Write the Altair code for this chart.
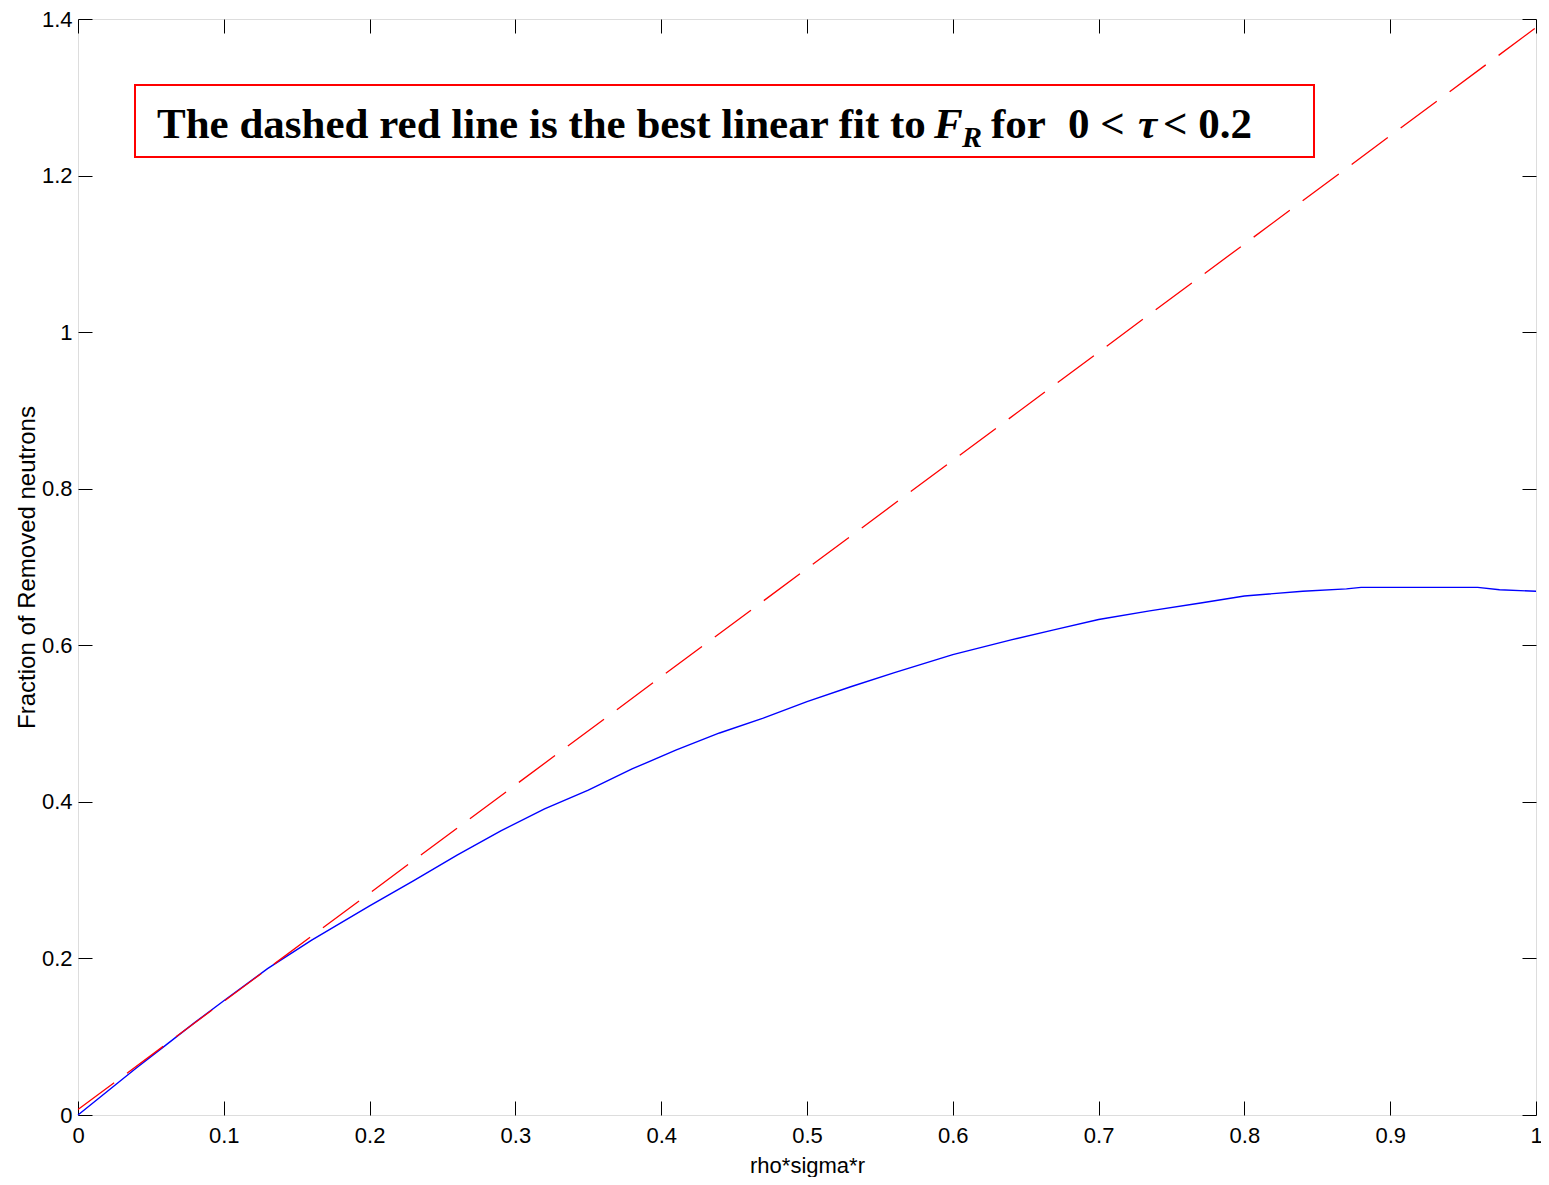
import altair as alt
import pandas as pd

# ---- data ----
x_blue = [0.0, 0.02, 0.04, 0.06, 0.08, 0.10, 0.13, 0.16, 0.20, 0.23, 0.26, 0.29, 0.32, 0.35,
          0.38, 0.41, 0.44, 0.47, 0.50, 0.53, 0.56, 0.60, 0.64, 0.67, 0.70, 0.735, 0.77, 0.80,
          0.84, 0.87, 0.88, 0.96, 0.975, 1.0]
y_blue = [0.0, 0.030, 0.060, 0.089, 0.118, 0.146, 0.187, 0.223, 0.267, 0.299, 0.332, 0.363,
          0.391, 0.415, 0.442, 0.466, 0.488, 0.507, 0.528, 0.547, 0.565, 0.588, 0.607, 0.620,
          0.633, 0.644, 0.654, 0.663, 0.669, 0.672, 0.674, 0.674, 0.671, 0.669]
x_fit = [0.0, 1.0]
y_fit = [0.007, 1.389]
x_ticks = [0, 0.1, 0.2, 0.3, 0.4, 0.5, 0.6, 0.7, 0.8, 0.9, 1.0]
y_ticks = [0, 0.2, 0.4, 0.6, 0.8, 1.0, 1.2, 1.4]

x_title = "rho*sigma*r"
y_title = "Fraction of Removed neutrons"
note_main = "The dashed red line is the best linear fit to"
note_F, note_R, note_for, note_0lt, note_tau, note_end = "F", "R", "for", "0 <", "τ", "< 0.2"

blue_df = pd.DataFrame({"x": x_blue, "y": y_blue})
fit_df = pd.DataFrame({"x": x_fit, "y": y_fit})

W, H = 1458, 1096
SANS = "Liberation Sans, Arial"
SERIF = "Liberation Serif, Times New Roman"

xs = alt.Scale(domain=[0, 1], nice=False, zero=False)
ys = alt.Scale(domain=[0, 1.4], nice=False, zero=False)

def tick_axis(orient, values):
    return alt.Axis(orient=orient, values=values, labels=False, domain=False, grid=False,
                    ticks=True, tickSize=14, tickColor="black", tickWidth=1, offset=-14, title=None)

x_main = alt.Axis(orient="bottom", values=x_ticks, format="~g", ticks=False, domain=False,
                  grid=False, labelFont=SANS, labelFontSize=22, labelColor="black",
                  labelPadding=10, labelFlush=False, labelOverlap=False,
                  title=x_title, titleFont=SANS, titleFontSize=22, titleFontWeight="normal",
                  titleColor="black", titlePadding=9)
y_main = alt.Axis(orient="left", values=y_ticks, format="~g", ticks=False, domain=False,
                  grid=False, labelFont=SANS, labelFontSize=22, labelColor="black",
                  labelPadding=6, labelFlush=False, labelOverlap=False,
                  title=y_title, titleFont=SANS, titleFontSize=24, titleFontWeight="normal",
                  titleColor="black", titlePadding=2)

blue = alt.Chart(blue_df).mark_line(color="#0000FF", strokeWidth=1.4).encode(
    x=alt.X("x:Q", scale=xs, axis=x_main),
    y=alt.Y("y:Q", scale=ys, axis=y_main),
)
red = alt.Chart(fit_df).mark_line(color="#FF0000", strokeWidth=1.3, strokeDash=[45, 16]).encode(
    x=alt.X("x:Q", scale=xs, axis=tick_axis("bottom", x_ticks)),
    y=alt.Y("y:Q", scale=ys, axis=tick_axis("left", y_ticks)),
)
ghost = alt.Chart(fit_df).mark_line(opacity=0).encode(
    x=alt.X("x:Q", scale=xs, axis=tick_axis("top", x_ticks)),
    y=alt.Y("y:Q", scale=ys, axis=tick_axis("right", y_ticks)),
)

one = pd.DataFrame({"k": [0]})
box = alt.Chart(one).mark_rect(fillOpacity=0, stroke="#FF0000", strokeWidth=2).encode(
    x=alt.value(57), x2=alt.value(1236), y=alt.value(66), y2=alt.value(138))

def piece(text, x, y, size=43, style="normal"):
    return alt.Chart(pd.DataFrame({"t": [text]})).mark_text(
        font=SERIF, fontSize=size, fontWeight="bold", fontStyle=style, color="black",
        align="left", baseline="alphabetic").encode(
        x=alt.value(x), y=alt.value(y), text="t:N")

texts = [
    piece(note_main, 79, 119),
    piece(note_F, 856, 119, style="italic"),
    piece(note_R, 884, 128, size=30, style="italic"),
    piece(note_for, 913, 119),
    piece(note_0lt, 990, 119),
    piece(note_tau, 1060, 119, style="italic"),
    piece(note_end, 1085, 119),
]

chart = alt.layer(blue, red, ghost, box, *texts).resolve_axis(
    x="independent", y="independent"
).properties(
    width=W, height=H,
    padding={"left": 70, "top": 11, "right": 5, "bottom": 62},
    autosize=alt.AutoSizeParams(type="none"),
).configure_view(stroke="black", strokeWidth=1.5).configure(background="white")

chart.save("out.html", embed_options={"renderer": "svg", "actions": False})
